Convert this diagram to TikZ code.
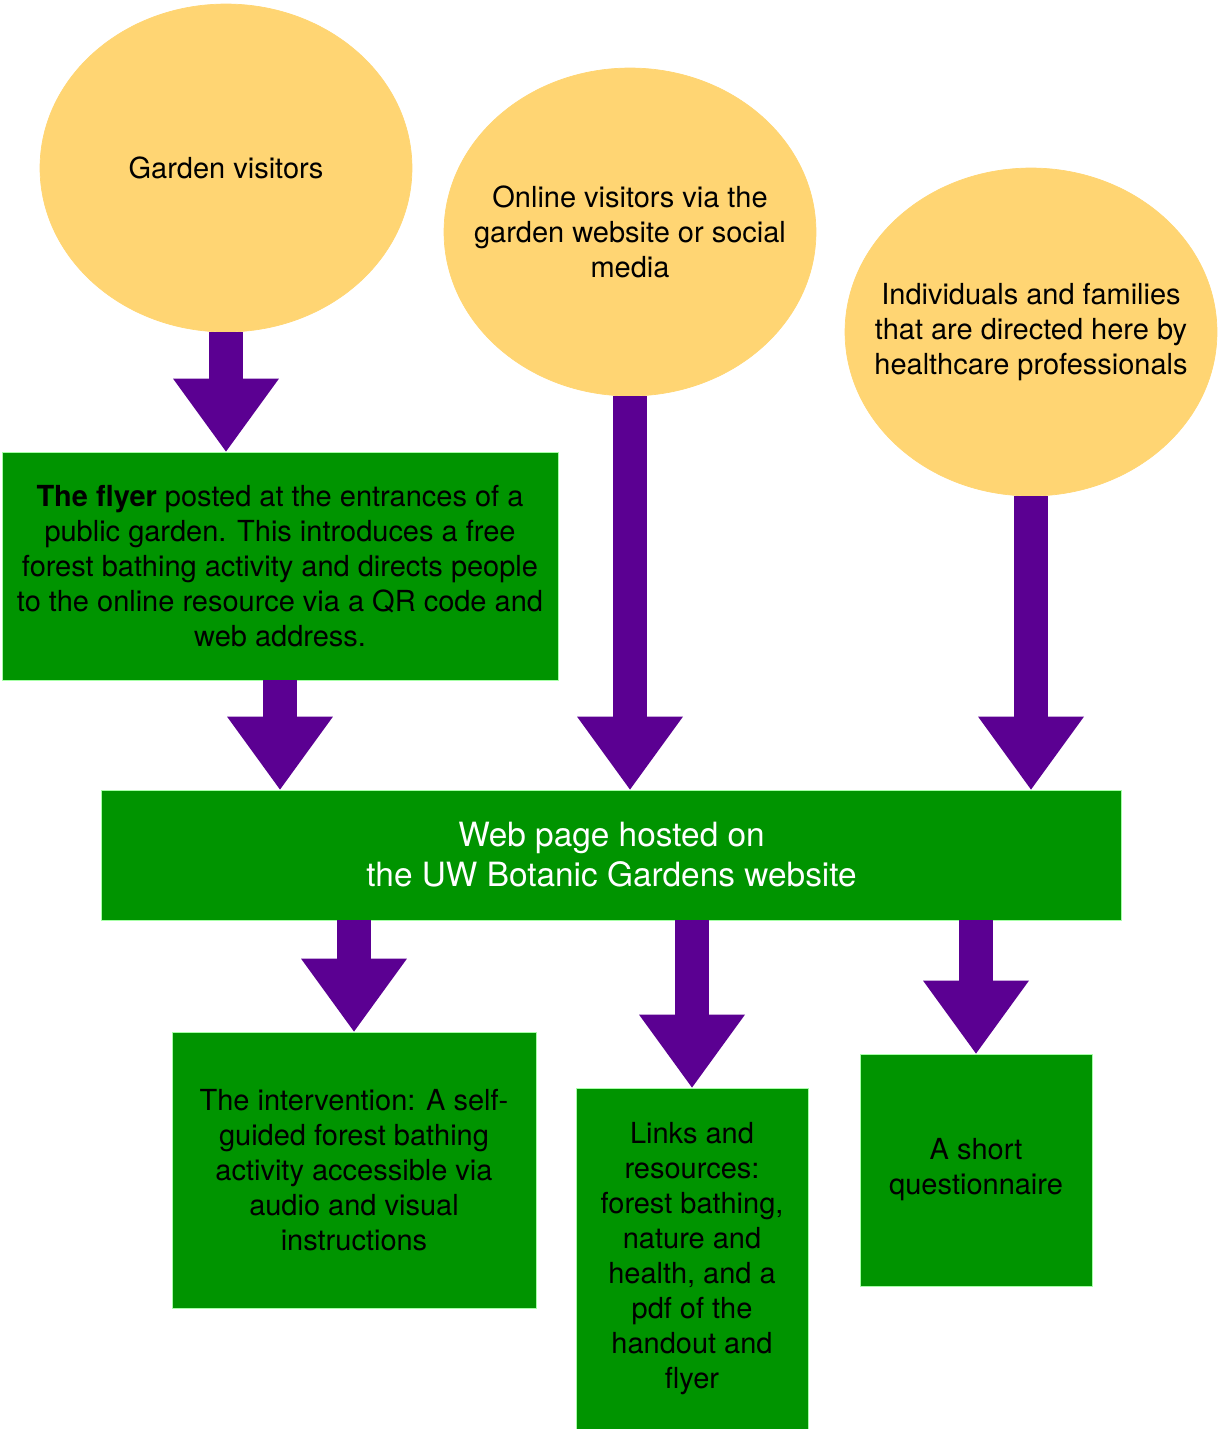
\documentclass[tikz,border=0pt]{standalone}
\usepackage{fontspec}
\setmainfont{TeX Gyre Heros}
\usepackage{xcolor}
\usetikzlibrary{shapes.geometric, arrows.meta, positioning}

\definecolor{boxgreen}{RGB}{0,148,0}
\definecolor{crowdyellow}{RGB}{255,213,115}
\definecolor{flowpurple}{RGB}{91,0,146}

\tikzset{
    crowd/.style={ellipse, fill=crowdyellow, draw=crowdyellow, inner sep=0pt,
        minimum width=7.44cm, minimum height=6.56cm},
    crowdtext/.style={align=center, inner sep=0pt, font=\fontsize{16.5}{19.9}\selectfont},
    stage/.style={rectangle, fill=boxgreen, draw=green!35!white, line width=0.5pt, inner sep=0pt,
        align=center, font=\fontsize{16.5}{19.9}\selectfont},
    bigarrow/.style={draw=flowpurple, line width=0.68cm,
        -{Triangle[length=1.46cm, width=2.12cm, line width=0pt]}}
}

\begin{document}
\begin{tikzpicture}[x=0.02cm, y=-0.02cm]

    \useasboundingbox (0,0) rectangle (1218,1429);

    % who arrives
    \node[crowd, label={[crowdtext]center:Garden visitors}] (garden) at (226,168) {};
    \node[crowd, label={[crowdtext]center:Online visitors via the\\garden website or social\\media}] (online) at (630,232) {};
    \node[crowd, label={[crowdtext]center:Individuals and families\\that are directed here by\\healthcare professionals}] (referred) at (1031,332) {};

    % flyer and web page
    \node[stage, minimum width=11.12cm, minimum height=4.56cm] (flyer) at (280,566)
        {\textbf{The flyer} posted at the entrances of a\\public garden. This introduces a free\\forest bathing activity and directs people\\to the online resource via a QR code and\\web address.};
    \node[stage, minimum width=20.42cm, minimum height=2.6cm, text=white,
        font=\fontsize{19}{22.8}\selectfont] (web) at (611.5,855)
        {Web page hosted on\\the UW Botanic Gardens website};

    % what the page offers
    \node[stage, minimum width=7.28cm, minimum height=5.52cm] (intervention) at (354,1170)
        {The intervention: A self-\\guided forest bathing\\activity accessible via\\audio and visual\\instructions};
    \node[stage, minimum width=4.64cm, minimum height=6.82cm] (links) at (692,1258.5)
        {Links and\\resources:\\forest bathing,\\nature and\\health, and a\\pdf of the\\handout and\\flyer};
    \node[stage, minimum width=4.64cm, minimum height=4.64cm] (quest) at (976,1170)
        {A short\\questionnaire};

    % arrows
    \draw[bigarrow] (garden.south) -- (garden.south |- flyer.north);
    \draw[bigarrow] (flyer.south) -- (flyer.south |- web.north);
    \draw[bigarrow] (online.south) -- (online.south |- web.north);
    \draw[bigarrow] (referred.south) -- (referred.south |- web.north);
    \draw[bigarrow] (intervention.north |- web.south) -- (intervention.north);
    \draw[bigarrow] (links.north |- web.south) -- (links.north);
    \draw[bigarrow] (quest.north |- web.south) -- (quest.north);
\end{tikzpicture}
\end{document}
